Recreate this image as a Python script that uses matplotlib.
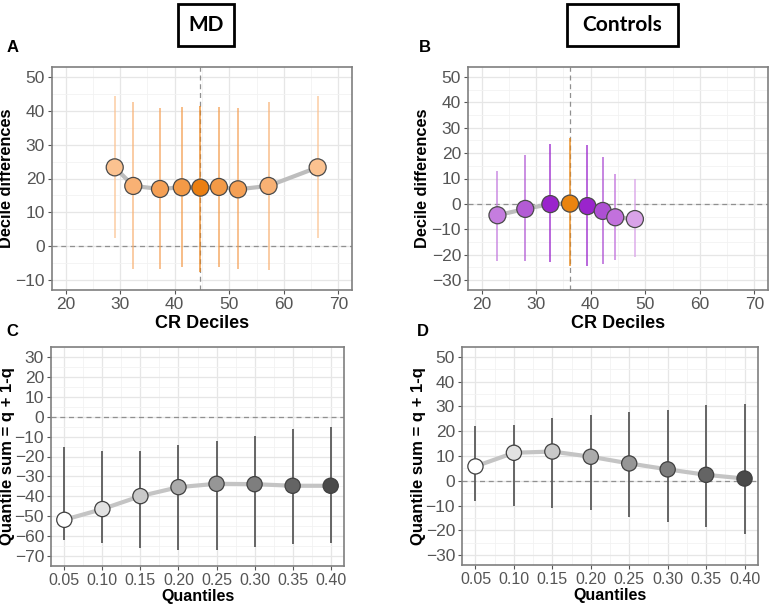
import matplotlib
matplotlib.use("Agg")
import matplotlib.pyplot as plt
from matplotlib.ticker import MultipleLocator, FixedLocator
from matplotlib.patches import Rectangle

plt.rcParams['font.family'] = ['Liberation Sans', 'DejaVu Sans']

# ---------------- data ----------------
md_x = [29.0, 32.4, 37.3, 41.3, 44.7, 48.1, 51.6, 57.2, 66.2]
md_y = [23.3, 17.8, 16.9, 17.4, 17.3, 17.5, 16.8, 17.8, 23.3]
md_lo = [2.3, -6.9, -6.9, -6.1, -7.6, -6.1, -6.9, -7.1, 2.3]
md_hi = [44.5, 42.6, 40.8, 41.1, 41.5, 41.1, 40.8, 42.6, 44.5]
md_colors = ['#fbc290', '#f8b174', '#f5a055', '#f39a47', '#eb7f12',
             '#f39a47', '#f5a055', '#f8b174', '#fbc290']
md_median = 44.7

ctl_x = [22.9, 28.0, 32.6, 36.2, 39.4, 42.2, 44.5, 48.1]
ctl_y = [-4.5, -2.0, -0.1, 0.1, -0.9, -2.8, -5.3, -6.0]
ctl_lo = [-22.5, -22.5, -23.1, -24.5, -24.5, -23.7, -22.1, -20.8]
ctl_hi = [13.0, 19.2, 23.5, 26.1, 23.1, 18.3, 11.9, 9.9]
ctl_colors = ['#c57ddf', '#b35bd5', '#9a24cc', '#ea840f', '#9a24cc',
              '#ad4fd3', '#c271dc', '#d9a3e8']
ctl_median = 36.2

quantiles = [0.05, 0.10, 0.15, 0.20, 0.25, 0.30, 0.35, 0.40]
q_labels = ['0.05', '0.10', '0.15', '0.20', '0.25', '0.30', '0.35', '0.40']
md_qs = [-51.8, -46.4, -39.9, -35.4, -33.7, -33.9, -34.7, -34.7]
md_qs_lo = [-61.8, -63.4, -66.1, -66.8, -66.8, -65.4, -63.8, -63.4]
md_qs_hi = [-15.0, -17.4, -17.0, -14.0, -12.0, -9.9, -6.3, -5.3]
ctl_qs = [5.8, 11.3, 11.8, 9.7, 7.0, 4.6, 2.4, 0.9]
ctl_qs_lo = [-8.2, -10.1, -10.8, -11.7, -14.8, -16.7, -18.6, -21.5]
ctl_qs_hi = [22.3, 22.7, 25.3, 26.4, 27.7, 28.4, 30.4, 31.1]
q_colors = ['#ffffff', '#e2e2e2', '#c9c9c9', '#ababab', '#969696',
            '#7e7e7e', '#646464', '#4a4a4a']

W, H = 776, 609
fig = plt.figure(figsize=(W / 100, H / 100), dpi=100)


def rect(x0, y0, x1, y1):
    return [x0 / W, 1 - y1 / H, (x1 - x0) / W, (y1 - y0) / H]


def style(ax, xlim, ylim, xmaj, xmin, ymaj, ymin, xls=12.5):
    ax.set_xlim(*xlim)
    ax.set_ylim(*ylim)
    ax.xaxis.set_major_locator(xmaj)
    ax.xaxis.set_minor_locator(xmin)
    ax.yaxis.set_major_locator(ymaj)
    ax.yaxis.set_minor_locator(ymin)
    ax.grid(which='major', color='#e6e6e6', lw=0.9, zorder=0)
    ax.grid(which='minor', color='#f2f2f2', lw=0.6, zorder=0)
    ax.set_axisbelow(True)
    for s in ax.spines.values():
        s.set_color('#7f7f7f')
        s.set_linewidth(1.2)
    ax.tick_params(which='major', length=3, color='#555555', labelsize=12.5,
                   labelcolor='#555555', pad=2)
    ax.tick_params(axis='x', labelsize=xls)
    ax.tick_params(which='minor', length=0)


dash = (0, (4, 3))

# ---------------- Panel A ----------------
axA = fig.add_axes(rect(52, 67, 352, 290))
style(axA, (17.5, 72.5), (-13, 53), MultipleLocator(10), MultipleLocator(5),
      MultipleLocator(10), MultipleLocator(5))
axA.axhline(0, color='#909090', ls=dash, lw=0.9, zorder=1)
axA.axvline(md_median, color='#909090', ls=dash, lw=0.9, zorder=1)
for x, lo, hi, c in zip(md_x, md_lo, md_hi, md_colors):
    axA.vlines(x, lo, hi, color=c, lw=1.3, alpha=0.7, zorder=2)
axA.plot(md_x, md_y, color='#bdbdbd', lw=3, solid_capstyle='round', zorder=3)
axA.scatter(md_x, md_y, s=150, c=md_colors, edgecolors='#4a4a4a',
            linewidths=0.9, zorder=4)
axA.set_xlabel('CR Deciles', fontsize=13, fontweight='bold', labelpad=2)
axA.set_ylabel('Decile differences', fontsize=11.8, fontweight='bold', labelpad=1)

# ---------------- Panel B ----------------
axB = fig.add_axes(rect(468, 67, 768, 290))
style(axB, (17.5, 72.5), (-34, 54), MultipleLocator(10), MultipleLocator(5),
      MultipleLocator(10), MultipleLocator(5))
axB.axhline(0, color='#909090', ls=dash, lw=0.9, zorder=1)
axB.axvline(ctl_median, color='#909090', ls=dash, lw=0.9, zorder=1)
for x, lo, hi, c in zip(ctl_x, ctl_lo, ctl_hi, ctl_colors):
    axB.vlines(x, lo, hi, color=c, lw=1.3, alpha=0.75, zorder=2)
axB.plot(ctl_x, ctl_y, color='#bdbdbd', lw=3, solid_capstyle='round', zorder=3)
axB.scatter(ctl_x, ctl_y, s=150, c=ctl_colors, edgecolors='#4a4a4a',
            linewidths=0.9, zorder=4)
axB.set_xlabel('CR Deciles', fontsize=13, fontweight='bold', labelpad=2)
axB.set_ylabel('Decile differences', fontsize=11.8, fontweight='bold', labelpad=1)

# ---------------- Panel C ----------------
qmin = [0.075, 0.125, 0.175, 0.225, 0.275, 0.325, 0.375]
axC = fig.add_axes(rect(51, 347, 344, 566))
style(axC, (0.0325, 0.4175), (-75, 35), FixedLocator(quantiles),
      FixedLocator(qmin), MultipleLocator(10), MultipleLocator(5), xls=11.5)
axC.axhline(0, color='#909090', ls=dash, lw=0.9, zorder=1)
axC.vlines(quantiles, md_qs_lo, md_qs_hi, color='#5a5a5a', lw=1.3, zorder=2)
axC.plot(quantiles, md_qs, color='#c4c4c4', lw=3, solid_capstyle='round', zorder=3)
axC.scatter(quantiles, md_qs, s=120, c=q_colors, edgecolors='#404040',
            linewidths=0.9, zorder=4)
axC.set_xticklabels(q_labels)
axC.set_xlabel('Quantiles', fontsize=11.5, fontweight='bold', labelpad=1)
axC.set_ylabel('Quantile sum = q + 1-q', fontsize=12, fontweight='bold', labelpad=0)

# ---------------- Panel D ----------------
axD = fig.add_axes(rect(462, 347, 758, 565))
style(axD, (0.0325, 0.4175), (-34, 54), FixedLocator(quantiles),
      FixedLocator(qmin), MultipleLocator(10), MultipleLocator(5), xls=11.5)
axD.axhline(0, color='#909090', ls=dash, lw=0.9, zorder=1)
axD.vlines(quantiles, ctl_qs_lo, ctl_qs_hi, color='#5a5a5a', lw=1.3, zorder=2)
axD.plot(quantiles, ctl_qs, color='#c4c4c4', lw=3, solid_capstyle='round', zorder=3)
axD.scatter(quantiles, ctl_qs, s=120, c=q_colors, edgecolors='#404040',
            linewidths=0.9, zorder=4)
axD.set_xticklabels(q_labels)
axD.set_xlabel('Quantiles', fontsize=11.5, fontweight='bold', labelpad=1)
axD.set_ylabel('Quantile sum = q + 1-q', fontsize=12, fontweight='bold', labelpad=0)

# ---------------- labels / headers ----------------
for lab, px, py in [('A', 13, 48), ('B', 425, 48), ('C', 12, 331), ('D', 423, 331)]:
    fig.text(px / W, 1 - py / H, lab, fontsize=12, fontweight='bold',
             ha='center', va='center')

for (x0, x1), txt in [((178, 234), 'MD'), ((567, 678), 'Controls')]:
    fig.patches.append(Rectangle((x0 / W, 1 - 46 / H), (x1 - x0) / W, 42 / H,
                                 transform=fig.transFigure, fill=False,
                                 ec='black', lw=2))
    fig.text((x0 + x1) / 2 / W, 1 - 25 / H, txt, fontsize=15, fontweight='bold',
             family=['Lato', 'DejaVu Sans'], ha='center', va='center')

fig.savefig('out.png', dpi=100, facecolor='white')
